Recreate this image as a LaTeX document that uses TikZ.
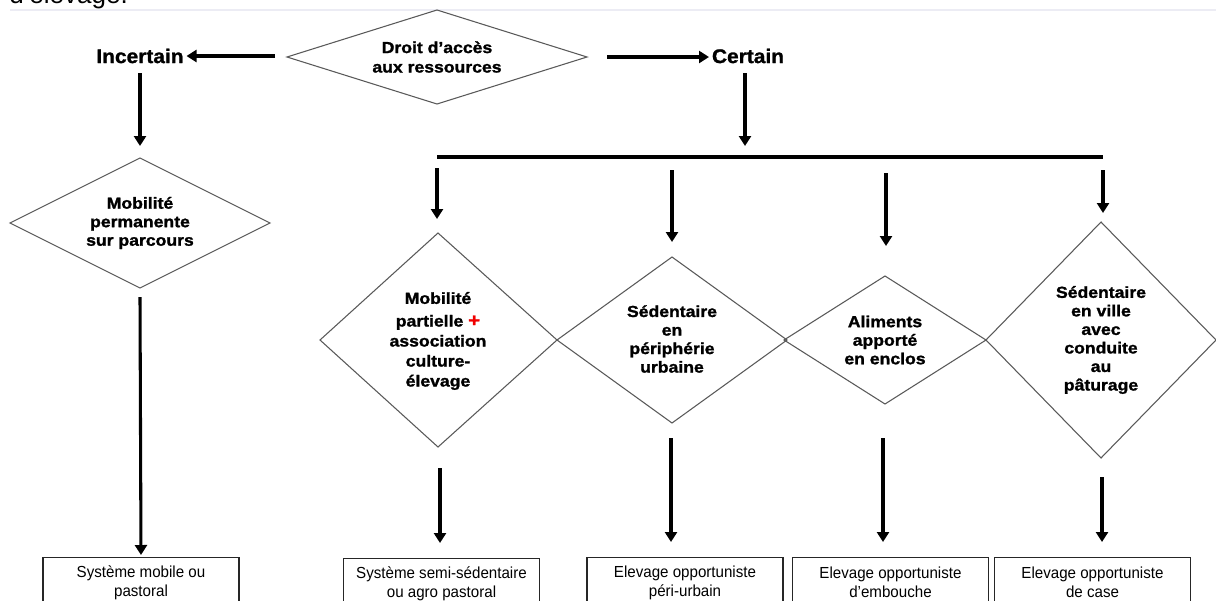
\documentclass[tikz,border=0pt]{standalone}
\usepackage{fontspec}
\setmainfont{Liberation Sans}
\newfontfamily\widebold{Liberation Sans Bold}[FakeStretch=1.1,FakeBold=1.4]
\newfontfamily\labelbold{Liberation Sans Bold}[FakeStretch=1.06,FakeBold=1.2]
\newfontfamily\narrowreg{Liberation Sans}[FakeStretch=0.945]
\usetikzlibrary{arrows.meta}
\definecolor{faint}{RGB}{236,236,244}
\definecolor{plusred}{RGB}{240,0,0}
\begin{document}
\begin{tikzpicture}[x=0.75pt,y=-0.75pt,
  arr/.style={line width=2.3pt,-{Triangle[length=7.5pt,width=9pt]}},
  bar/.style={line width=2.3pt},
  dia/.style={draw=black!65,line width=0.8pt},
  dtext/.style={font=\widebold\fontsize{12}{13.9}\selectfont,align=center,inner sep=0pt},
  ltext/.style={font=\labelbold\fontsize{14.8}{18}\selectfont,inner sep=0pt},
  outbox/.style={draw=black!85,line width=0.8pt,minimum width=147pt,minimum height=37.5pt,
    anchor=north,align=center,font=\narrowreg\fontsize{12}{14.25}\selectfont,inner sep=0pt}]
\useasboundingbox (0,0) rectangle (1216,600);

% cut-off caption at the top
\node[anchor=base west,font=\fontsize{19.5}{20}\selectfont,inner sep=0pt] (cap) at (9,3) {d’élevage.};
\draw[faint,line width=0.8pt] (10,10) -- (1216,10);

% diamonds
\draw[dia] (287,57) -- (437,10) -- (587,57) -- (437,104) -- cycle;
\draw[dia] (10,223) -- (140,158) -- (270,223) -- (140,288) -- cycle;
\draw[dia] (320,340) -- (438,233) -- (557,340) -- (438,447) -- cycle;
\draw[dia] (557,340) -- (672,257) -- (787,340) -- (672,423) -- cycle;
\draw[dia] (784,340) -- (885,276) -- (986,340) -- (885,404) -- cycle;
\draw[dia] (986,340) -- (1101,222) -- (1216,340) -- (1101,458) -- cycle;

% texts
\node[ltext] (inc) at (140,56) {Incertain};
\node[ltext] (cer) at (748,56) {Certain};
\node[dtext,font=\widebold\fontsize{12}{14.6}\selectfont] (d0) at (437,57) {Droit d’accès\\aux ressources};
\node[dtext] (d1) at (140,223) {Mobilité\\permanente\\sur parcours};
\node[dtext,font=\widebold\fontsize{12}{15}\selectfont] (d2) at (438,341)
  {Mobilité\\[2pt]partielle {\color{plusred}\fontsize{14}{14}\selectfont+}\\association\\culture-\\élevage};
\node[dtext] (d3) at (672,339) {Sédentaire\\en\\périphérie\\urbaine};
\node[dtext] (d4) at (885,340) {Aliments\\apporté\\en enclos};
\node[dtext] (d5) at (1101,340) {Sédentaire\\en ville\\avec\\conduite\\au\\pâturage};

% result boxes
\node[outbox] (b1) at (141,557) {Système mobile ou\\pastoral};
\node[outbox] (b2) at (441.5,558) {Système semi-sédentaire\\ou agro pastoral};
\node[outbox] (b3) at (685,557) {Elevage opportuniste\\péri-urbain};
\node[outbox] (b4) at (890.5,557) {Elevage opportuniste\\d’embouche};
\node[outbox] (b5) at (1092.5,557) {Elevage opportuniste\\de case};

% connector end points
\coordinate (l0) at (275,56);
\coordinate (r0) at (607,57);
\coordinate (r1) at (709,57);
\coordinate (i0) at (140,73);
\coordinate (i1) at (140,146);
\coordinate (i2) at (140,297);
\coordinate (c0) at (745,73);
\coordinate (c1) at (745,146);
\coordinate (hl) at (437,157);
\coordinate (hr) at (1103,157);
\coordinate (p1s) at (437,168);  \coordinate (p1e) at (437,219);
\coordinate (p2s) at (672,170);  \coordinate (p2e) at (672,242);
\coordinate (p3s) at (886,173);  \coordinate (p3e) at (886,246);
\coordinate (p4s) at (1103,170); \coordinate (p4e) at (1103,213);
\coordinate (q1s) at (440,468);  \coordinate (q1e) at (440,543);
\coordinate (q2s) at (671,438);  \coordinate (q2e) at (671,542);
\coordinate (q3s) at (883,438);  \coordinate (q3e) at (883,542);
\coordinate (q4s) at (1102,477); \coordinate (q4e) at (1102,542);

% connectors
\draw[arr,shorten >=2pt] (l0) -- (inc.east);
\draw[arr] (r0) -- (r1);
\draw[arr] (i0) -- (i1);
\draw[arr,shorten >=1.5pt] (i2) -- (b1.north);
\draw[arr] (c0) -- (c1);
\draw[bar] (hl) -- (hr);
\draw[arr] (p1s) -- (p1e);
\draw[arr] (p2s) -- (p2e);
\draw[arr] (p3s) -- (p3e);
\draw[arr] (p4s) -- (p4e);
\draw[arr] (q1s) -- (q1e);
\draw[arr] (q2s) -- (q2e);
\draw[arr] (q3s) -- (q3e);
\draw[arr] (q4s) -- (q4e);
\end{tikzpicture}
\end{document}
